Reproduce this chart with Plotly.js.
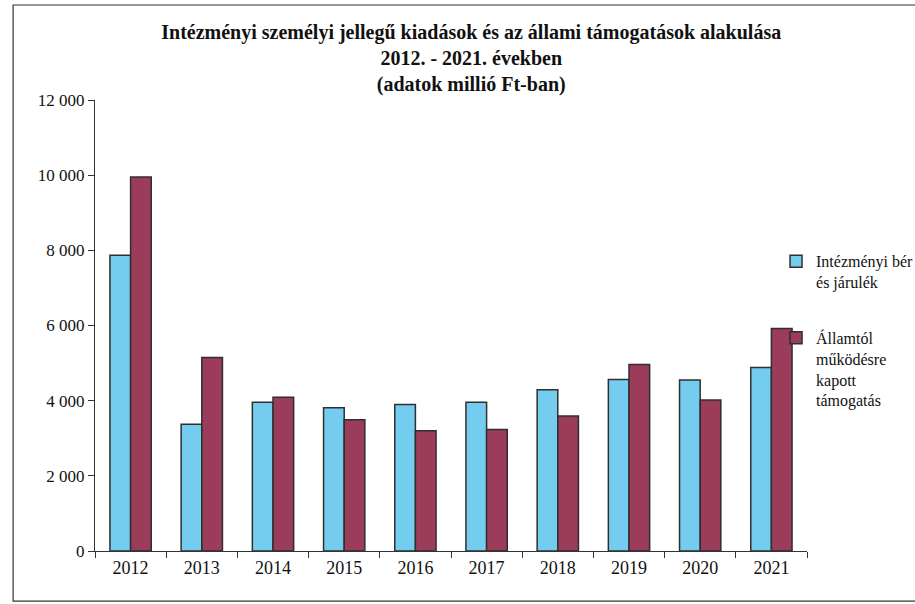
<!DOCTYPE html>
<html>
<head>
<meta charset="utf-8">
<script src="https://cdn.plot.ly/plotly-3.0.1.min.js"></script>
<style>html,body{margin:0;padding:0;background:#fff;}#chart{width:915px;height:604px;}</style>
</head>
<body>
<div id="chart"></div>
<script>
const years = ["2012","2013","2014","2015","2016","2017","2018","2019","2020","2021"];
const berJarulek = [7870, 3370, 3960, 3810, 3900, 3960, 4290, 4560, 4550, 4880];
const allamiTamogatas = [9950, 5150, 4090, 3490, 3200, 3230, 3590, 4960, 4020, 5920];
const yTicks = [0, 2000, 4000, 6000, 8000, 10000, 12000];
const seriesNames = ["Intézményi bér<br>és járulék", "Államtól<br>működésre<br>kapott<br>támogatás"];
const titleText = "<b>Intézményi személyi jellegű kiadások és az állami támogatások alakulása<br>2012. - 2021. években<br>(adatok millió Ft-ban)</b>";

const serif = "'Liberation Serif', 'Times New Roman', serif";
const traces = [
  {type:"bar", x:years, y:berJarulek, name:seriesNames[0], legendgroup:"a",
   marker:{color:"#74cdef", line:{color:"#2f2f2f", width:1.5}}},
  {type:"bar", x:years, y:allamiTamogatas, name:seriesNames[1], legendgroup:"b",
   marker:{color:"#9b3c5a", line:{color:"#2f2f2f", width:1.5}}}
];
const layout = {
  width:915, height:604,
  margin:{l:95, r:108, t:100, b:53, autoexpand:false},
  paper_bgcolor:"#fff", plot_bgcolor:"#fff",
  separators:", ",
  font:{family:serif, color:"#111", size:17},
  title:{text:titleText, font:{family:serif, size:20, color:"#111"}, x:0.515, xanchor:"center", y:0.935, yanchor:"top", yref:"container"},
  barmode:"group", bargap:0.42, bargroupgap:0,
  xaxis:{type:"category", showline:true, linecolor:"#333", linewidth:1, ticks:"outside", tickson:"boundaries", ticklen:6, tickcolor:"#333", showgrid:false, tickfont:{family:serif, size:18, color:"#111"}},
  yaxis:{range:[0,12000], tickvals:yTicks, tickformat:",d", separatethousands:true, showline:true, linecolor:"#333", linewidth:1, ticks:"outside", ticklen:6, tickcolor:"#333", showgrid:false, zeroline:false, tickfont:{family:serif, size:17, color:"#111"}},
  legend:{x:0.9565, xanchor:"left", y:0.68, yanchor:"top", font:{family:serif, size:16, color:"#111"}, valign:"top", tracegroupgap:32, itemwidth:30, bgcolor:"rgba(0,0,0,0)"},
  shapes:[{type:"rect", xref:"paper", yref:"paper", x0:-0.115, x1:1.25, y0:-0.111, y1:1.2106, line:{color:"#333", width:1.2}, fillcolor:"rgba(0,0,0,0)", layer:"below"}]
};
Plotly.newPlot("chart", traces, layout, {displayModeBar:false, staticPlot:true});
</script>
</body>
</html>
